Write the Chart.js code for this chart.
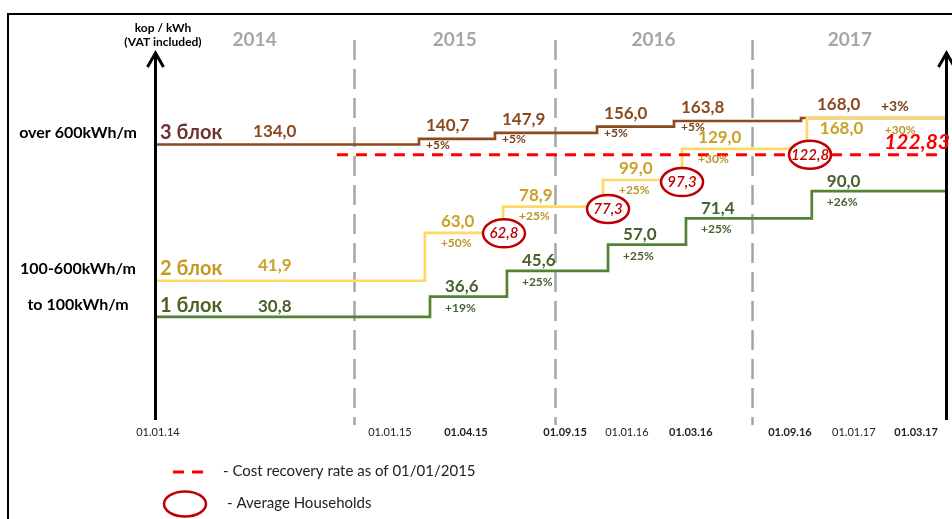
<!DOCTYPE html>
<html><head><meta charset="utf-8">
<script src="https://cdn.jsdelivr.net/npm/chart.js@4.4.1/dist/chart.umd.min.js"></script>
<style>
html,body{margin:0;padding:0;background:#fff;overflow:hidden}
#wrap{position:relative;width:952px;height:519px}
#frame{position:absolute;left:7px;top:13px;width:945px;height:506px;border-top:2px solid #000;border-left:2px solid #000;box-sizing:border-box;pointer-events:none}
canvas{position:absolute;left:0;top:0}
</style></head><body>
<div id="wrap"><canvas id="c" width="952" height="519" style="width:952px;height:519px"></canvas><div id="frame"></div></div>
<script>
// ---------------- data ----------------
// horizontal unit: position on the drawn timeline, in months from 01.01.14
const tickDates     = ['01.01.14','01.01.15','01.04.15','01.09.15','01.01.16','01.03.16','01.09.16','01.01.17','01.03.17'];
const tickPositions = [-0.25, 11.57, 15.44, 20.49, 23.64, 26.9, 31.95, 35.2, 38.37];
const tickBold      = [false, false, true, true, false, true, true, false, true];
const yearLabels = ['2014', '2015', '2016', '2017'];
const yearDividerPositions = [9.75, 20, 30];

const blockNames  = ['3 блок', '2 блок', '1 блок'];
const blockRanges = ['over 600kWh/m', '100-600kWh/m', 'to 100kWh/m'];

const block3Values  = [134.0, 140.7, 147.9, 156.0, 163.8, 168.0];
const block3Steps   = [13.05, 16.92, 22.12, 26.04, 32.51];
const block3Changes = ['+5%', '+5%', '+5%', '+5%', '+3%'];

const block2Values  = [41.9, 63.0, 78.9, 99.0, 129.0, 168.0];
const block2Steps   = [13.35, 17.33, 22.42, 26.45, 32.81];
const block2Changes = ['+50%', '+25%', '+25%', '+30%', '+30%'];

const block1Values  = [30.8, 36.6, 45.6, 57.0, 71.4, 90.0];
const block1Steps   = [13.61, 17.53, 22.68, 26.65, 33.06];
const block1Changes = ['+19%', '+25%', '+25%', '+25%', '+26%'];

const avgHouseholdPositions = [17.38, 22.68, 26.45, 32.97];
const avgHouseholdValues    = [62.8, 77.3, 97.3, 122.8];

const costRecoveryRate = 122.83;
const costRecoveryFrom = 8.87;

const legendTexts = ['- Cost recovery rate as of 01/01/2015', '- Average Households'];
const axisTitle = ['kop / kWh', '(VAT included)'];

// ---------------- layout / style ----------------
const X_MIN = -0.4, X_MAX = 40;
const Y_MIN = 13.24, Y_MAX = 275.6;
const FIRST_LABEL_POS = 5.7;
const FONT = 'Lato, "Open Sans", "DejaVu Sans", sans-serif';
const fmt = v => v.toFixed(1).replace('.', ',');

function stepPoints(values, steps) {
  const pts = [{x: X_MIN, y: values[0]}];
  steps.forEach((s, i) => pts.push({x: s, y: values[i + 1]}));
  pts.push({x: X_MAX, y: values[values.length - 1]});
  return pts;
}

const seriesStyle = [
  {values: block3Values, steps: block3Steps, changes: block3Changes, name: blockNames[0], range: blockRanges[0],
   line: '#8B4A1F', nameC: '#6F3331', valC: '#8B4A1F', pctC: '#7B3F17', dx: 7, valDy: -13, pctDy: 6, nameDy: -12, firstDy: -13,
   last: {dx: 16, dy: -13, gap: 64, pctSize: 14}},
  {values: block2Values, steps: block2Steps, changes: block2Changes, name: blockNames[1], range: blockRanges[1],
   line: '#FFD966', nameC: '#C39A1F', valC: '#C9A227', pctC: '#B99525', dx: 16, valDy: -11, pctDy: 10, nameDy: -12, firstDy: -15,
   last: {dx: 13, dy: 11, gap: 65, pctSize: 12}},
  {values: block1Values, steps: block1Steps, changes: block1Changes, name: blockNames[2], range: blockRanges[2],
   line: '#548235', nameC: '#4F6228', valC: '#46622F', pctC: '#46622F', dx: 15, valDy: -10, pctDy: 11, nameDy: -11, firstDy: -10,
   last: null}
];

const datasets = seriesStyle.map((s, i) => ({
  data: stepPoints(s.values, s.steps), borderColor: s.line, borderWidth: 2.7, stepped: 'before',
  pointRadius: 0, fill: false, order: i === 1 ? 1 : (i === 0 ? 2 : 3)
}));
datasets.push({
  data: [{x: costRecoveryFrom, y: costRecoveryRate}, {x: X_MAX, y: costRecoveryRate}],
  borderColor: '#FF0000', borderWidth: 3, borderDash: [11, 8], pointRadius: 0, order: 0
});
datasets.push({
  data: avgHouseholdPositions.map((m, i) => ({x: m, y: avgHouseholdValues[i]})),
  showLine: false, pointRadius: 0, borderColor: 'transparent', order: 0
});

function text(ctx, str, x, y, font, color, align) {
  ctx.font = font; ctx.fillStyle = color; ctx.textAlign = align || 'left'; ctx.textBaseline = 'middle';
  ctx.fillText(str, x, y);
}

const decor = {
  id: 'decor',
  beforeDatasetsDraw(chart) {
    const {ctx, scales: {x}} = chart;
    ctx.save();
    ctx.strokeStyle = '#A6A6A6'; ctx.lineWidth = 2.5; ctx.setLineDash([20, 9]);
    yearDividerPositions.forEach(m => {
      const px = Math.round(x.getPixelForValue(m)) + 0.5;
      ctx.beginPath(); ctx.moveTo(px, 40); ctx.lineTo(px, 425); ctx.stroke();
    });
    ctx.restore();
    const bounds = [X_MIN, ...yearDividerPositions, X_MAX];
    yearLabels.forEach((lab, i) => {
      const cx = x.getPixelForValue((bounds[i] + bounds[i + 1]) / 2);
      text(ctx, lab, cx, 40, 'bold 19px ' + FONT, '#A6A6A6', 'center');
    });
  },
  afterDatasetsDraw(chart) {
    const {ctx, chartArea: a, scales: {x}} = chart;
    ctx.save();
    ctx.strokeStyle = '#000'; ctx.lineWidth = 3; ctx.setLineDash([]);
    [a.left + 0.5, a.right - 1.5].forEach(px => {
      ctx.beginPath(); ctx.moveTo(px, 420); ctx.lineTo(px, 54); ctx.stroke();
      ctx.beginPath(); ctx.moveTo(px - 8, 67); ctx.lineTo(px, 53); ctx.lineTo(px + 8, 67); ctx.stroke();
    });
    text(ctx, axisTitle[0], a.left + 8, 28, 'bold 12px ' + FONT, '#000', 'center');
    text(ctx, axisTitle[1], a.left + 8, 42, 'bold 12px ' + FONT, '#000', 'center');

    seriesStyle.forEach((s, i) => {
      const pts = chart.getDatasetMeta(i).data;
      const p0 = pts[0];
      text(ctx, s.range, 78, p0.y - 12, 'bold 16px ' + FONT, '#000', 'center');
      text(ctx, s.name, a.left + 5, p0.y + s.nameDy, 'bold 20px ' + FONT, s.nameC, 'left');
      text(ctx, fmt(s.values[0]), x.getPixelForValue(FIRST_LABEL_POS), p0.y + s.firstDy, 'bold 17px ' + FONT, s.valC, 'center');
      for (let k = 1; k < s.values.length; k++) {
        const p = pts[k];
        const isLast = k === s.values.length - 1;
        if (isLast && s.last) {
          const lx = p.x + s.last.dx;
          text(ctx, fmt(s.values[k]), lx, p.y + s.last.dy, 'bold 17px ' + FONT, s.valC, 'left');
          text(ctx, s.changes[k - 1], lx + s.last.gap, p.y + s.last.dy + 1, 'bold ' + s.last.pctSize + 'px ' + FONT, s.pctC, 'left');
        } else {
          text(ctx, fmt(s.values[k]), p.x + s.dx, p.y + s.valDy, 'bold 17px ' + FONT, s.valC, 'left');
          text(ctx, s.changes[k - 1], p.x + s.dx, p.y + s.pctDy, 'bold 12px ' + FONT, s.pctC, 'left');
        }
      }
    });

    const red = chart.getDatasetMeta(3).data[0];
    text(ctx, costRecoveryRate.toFixed(2).replace('.', ','), a.right + 2, red.y - 12, 'italic bold 21px ' + FONT, '#FF0000', 'right');

    chart.getDatasetMeta(4).data.forEach((p, i) => {
      ctx.beginPath(); ctx.ellipse(p.x, p.y, 21, 14, 0, 0, Math.PI * 2);
      ctx.fillStyle = '#fff'; ctx.fill();
      ctx.strokeStyle = '#C00000'; ctx.lineWidth = 2.5; ctx.stroke();
      text(ctx, fmt(avgHouseholdValues[i]), p.x, p.y, 'italic 600 15px ' + FONT, '#C00000', 'center');
    });

    ctx.strokeStyle = '#FF0000'; ctx.lineWidth = 3; ctx.setLineDash([11, 8]);
    ctx.beginPath(); ctx.moveTo(173, 472); ctx.lineTo(204, 472); ctx.stroke();
    ctx.setLineDash([]);
    text(ctx, legendTexts[0], 223, 471, '15px ' + FONT, '#222', 'left');
    ctx.beginPath(); ctx.ellipse(185, 504, 21, 12.5, 0, 0, Math.PI * 2);
    ctx.strokeStyle = '#C00000'; ctx.lineWidth = 2.5; ctx.stroke();
    text(ctx, legendTexts[1], 227, 503, '15px ' + FONT, '#222', 'left');
    ctx.restore();
  }
};

new Chart(document.getElementById('c'), {
  type: 'line',
  data: {datasets},
  options: {
    responsive: false, animation: false, events: [],
    layout: {padding: {left: 155, right: 4, top: 60, bottom: 70}},
    plugins: {legend: {display: false}, tooltip: {enabled: false}},
    scales: {
      x: {
        type: 'linear', min: X_MIN, max: X_MAX,
        grid: {display: false, drawTicks: false}, border: {display: false},
        afterBuildTicks: axis => { axis.ticks = tickPositions.map(v => ({value: v})); },
        ticks: {
          autoSkip: false, maxRotation: 0, minRotation: 0, padding: 10, color: '#222',
          font: c => ({family: FONT, size: 11, weight: tickBold[tickPositions.indexOf(c.tick && c.tick.value)] ? 'bold' : 'normal'}),
          callback: v => tickDates[tickPositions.indexOf(v)]
        }
      },
      y: {type: 'logarithmic', display: false, min: Y_MIN, max: Y_MAX}
    }
  },
  plugins: [decor]
});
</script></body></html>
